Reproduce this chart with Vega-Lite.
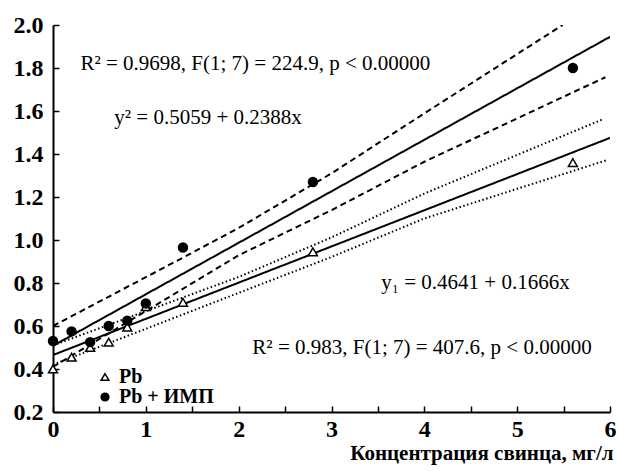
{
  "$schema": "https://vega.github.io/schema/vega-lite/v6.json",
  "width": 557,
  "height": 387,
  "autosize": {"type": "none"},
  "padding": {"left": 53, "top": 25, "right": 8, "bottom": 59},
  "background": "white",
  "config": {
    "view": {"stroke": null},
    "font": "Liberation Serif"
  },
  "datasets": {
    "pts": [
      {"group": "Pb", "x": 0, "y": 0.40},
      {"group": "Pb", "x": 0.2, "y": 0.455},
      {"group": "Pb", "x": 0.4, "y": 0.50},
      {"group": "Pb", "x": 0.6, "y": 0.525},
      {"group": "Pb", "x": 0.8, "y": 0.595},
      {"group": "Pb", "x": 1.0, "y": 0.69},
      {"group": "Pb", "x": 1.4, "y": 0.71},
      {"group": "Pb", "x": 2.8, "y": 0.945},
      {"group": "Pb", "x": 5.6, "y": 1.36},
      {"group": "Pb + ИМП", "x": 0, "y": 0.53},
      {"group": "Pb + ИМП", "x": 0.2, "y": 0.575},
      {"group": "Pb + ИМП", "x": 0.4, "y": 0.525},
      {"group": "Pb + ИМП", "x": 0.6, "y": 0.60},
      {"group": "Pb + ИМП", "x": 0.8, "y": 0.625},
      {"group": "Pb + ИМП", "x": 1.0, "y": 0.705},
      {"group": "Pb + ИМП", "x": 1.4, "y": 0.965},
      {"group": "Pb + ИМП", "x": 2.8, "y": 1.27},
      {"group": "Pb + ИМП", "x": 5.6, "y": 1.80}
    ],
    "lines": [
      {"curve": "imp_fit", "style": "solid", "x": 0, "y": 0.508},
      {"curve": "imp_fit", "style": "solid", "x": 6, "y": 1.945},
      {"curve": "imp_up", "style": "dashed", "x": 0, "y": 0.60},
      {"curve": "imp_up", "style": "dashed", "x": 1.4, "y": 0.918},
      {"curve": "imp_up", "style": "dashed", "x": 2, "y": 1.056},
      {"curve": "imp_up", "style": "dashed", "x": 3, "y": 1.31},
      {"curve": "imp_up", "style": "dashed", "x": 4, "y": 1.589},
      {"curve": "imp_up", "style": "dashed", "x": 5.49, "y": 2.0},
      {"curve": "imp_lo", "style": "dashed", "x": 0, "y": 0.41},
      {"curve": "imp_lo", "style": "dashed", "x": 2, "y": 0.929},
      {"curve": "imp_lo", "style": "dashed", "x": 3, "y": 1.139},
      {"curve": "imp_lo", "style": "dashed", "x": 4, "y": 1.364},
      {"curve": "imp_lo", "style": "dashed", "x": 5.95, "y": 1.757},
      {"curve": "pb_fit", "style": "solid", "x": 0, "y": 0.465},
      {"curve": "pb_fit", "style": "solid", "x": 6, "y": 1.475},
      {"curve": "pb_up", "style": "dotted", "x": 0, "y": 0.51},
      {"curve": "pb_up", "style": "dotted", "x": 2, "y": 0.828},
      {"curve": "pb_up", "style": "dotted", "x": 3, "y": 1.012},
      {"curve": "pb_up", "style": "dotted", "x": 4, "y": 1.216},
      {"curve": "pb_up", "style": "dotted", "x": 5.92, "y": 1.561},
      {"curve": "pb_lo", "style": "dotted", "x": 0, "y": 0.42},
      {"curve": "pb_lo", "style": "dotted", "x": 2, "y": 0.754},
      {"curve": "pb_lo", "style": "dotted", "x": 3, "y": 0.921},
      {"curve": "pb_lo", "style": "dotted", "x": 4, "y": 1.100},
      {"curve": "pb_lo", "style": "dotted", "x": 5.97, "y": 1.372}
    ],
    "notes": [
      {"x": 2.18, "y": 1.82, "label": "R² = 0.9698, F(1; 7) = 224.9, p < 0.00000"},
      {"x": 1.67, "y": 1.567, "label": "y² = 0.5059 + 0.2388x"},
      {"x": 4.55, "y": 0.80, "label": "y₁ = 0.4641 + 0.1666x"},
      {"x": 3.975, "y": 0.496, "label": "R² = 0.983, F(1; 7) = 407.6, p < 0.00000"}
    ]
  },
  "encoding": {
    "x": {
      "field": "x", "type": "quantitative",
      "scale": {"domain": [0, 6], "nice": false},
      "axis": {
        "values": [0, 0.5, 1, 1.5, 2, 2.5, 3, 3.5, 4, 4.5, 5, 5.5, 6],
        "labelExpr": "datum.value % 1 == 0 ? format(datum.value, 'd') : ''",
        "grid": false, "domain": true, "ticks": true,
        "domainColor": "black", "domainWidth": 2,
        "tickColor": "black", "tickWidth": 1.5,
        "tickSize": -6, "labelPadding": 11, "labelFlush": false, "labelColor": "black",
        "labelFont": "Liberation Serif", "labelFontSize": 24, "labelFontWeight": "bold",
        "title": "Концентрация свинца, мг/л", "titleColor": "black",
        "titleFont": "Liberation Serif", "titleFontSize": 21, "titleFontWeight": "bold",
        "titleAnchor": "end", "titleAlign": "right", "titleX": 560, "titleY": 47, "titleBaseline": "alphabetic"
      }
    },
    "y": {
      "field": "y", "type": "quantitative",
      "scale": {"domain": [0.2, 2.0], "nice": false, "zero": false},
      "axis": {
        "values": [0.2, 0.4, 0.6, 0.8, 1.0, 1.2, 1.4, 1.6, 1.8, 2.0],
        "format": ".1f",
        "grid": false, "domain": true, "ticks": true,
        "domainColor": "black", "domainWidth": 2,
        "tickColor": "black", "tickWidth": 1.5,
        "tickSize": -6, "labelPadding": 16, "labelColor": "black", "labelFlush": false,
        "labelFont": "Liberation Serif", "labelFontSize": 24, "labelFontWeight": "bold",
        "title": null
      }
    }
  },
  "layer": [
    {
      "data": {"name": "lines"},
      "mark": {"type": "line", "clip": true, "color": "black", "strokeWidth": 2},
      "encoding": {
        "detail": {"field": "curve"},
        "strokeDash": {
          "field": "style", "type": "nominal",
          "scale": {"domain": ["solid", "dashed", "dotted"], "range": [[1, 0], [6, 4], [1.5, 2.5]]},
          "legend": null
        }
      }
    },
    {
      "data": {"name": "pts"},
      "mark": {"type": "point", "filled": false, "stroke": "black", "strokeWidth": 1.5, "opacity": 1, "size": 80},
      "encoding": {
        "shape": {
          "field": "group", "type": "nominal",
          "scale": {"domain": ["Pb", "Pb + ИМП"], "range": ["triangle-up", "circle"]},
          "legend": {
            "title": null, "orient": "none", "legendX": 42, "legendY": 342,
            "labelFont": "Liberation Serif", "labelFontSize": 20, "labelFontWeight": "bold", "labelColor": "black",
            "labelOffset": 4, "rowPadding": 0, "padding": 0, "symbolSize": 60,
            "encode": {"symbols": {"update": {"stroke": {"value": "black"}, "strokeWidth": {"value": 1.5}}}}
          }
        },
        "fill": {
          "field": "group", "type": "nominal",
          "scale": {"domain": ["Pb", "Pb + ИМП"], "range": ["white", "black"]},
          "legend": {
            "title": null, "orient": "none", "legendX": 42, "legendY": 342,
            "labelFont": "Liberation Serif", "labelFontSize": 20, "labelFontWeight": "bold", "labelColor": "black",
            "labelOffset": 4, "rowPadding": 0, "padding": 0, "symbolSize": 60,
            "encode": {"symbols": {"update": {"stroke": {"value": "black"}, "strokeWidth": {"value": 1.5}}}}
          }
        }
      }
    },
    {
      "data": {"name": "notes"},
      "mark": {"type": "text", "font": "Liberation Serif", "fontSize": 21, "color": "black", "align": "center", "baseline": "middle"},
      "encoding": {"text": {"field": "label"}}
    }
  ]
}
